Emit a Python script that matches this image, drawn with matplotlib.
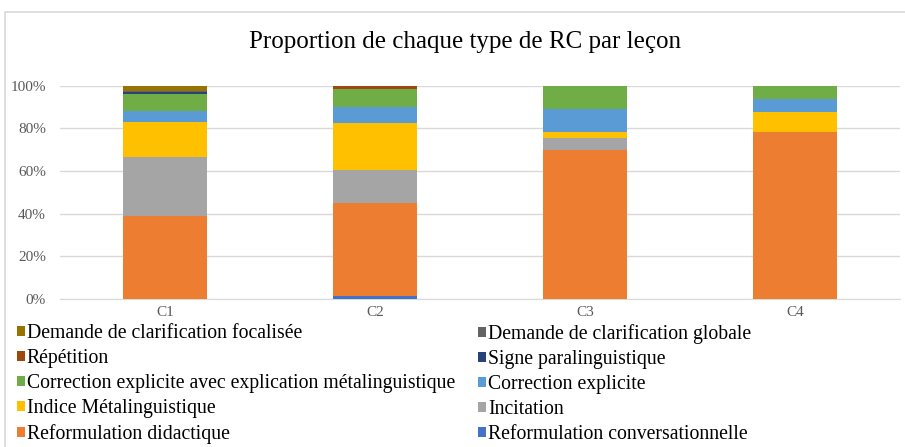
import numpy as np
import matplotlib
matplotlib.use('Agg')
import matplotlib.pyplot as plt
from matplotlib.patches import Rectangle
from matplotlib.ticker import PercentFormatter

# Lessons
lessons = ['C1', 'C2', 'C3', 'C4']

# Share of each corrective-feedback type (%), bottom to top of the stack
conversationnelle = [0.0, 1.2, 0.0, 0.0]
didactique = [38.9, 43.7, 70.0, 78.2]
incitation = [27.8, 15.6, 5.6, 0.0]
indice = [16.1, 21.9, 2.6, 9.5]
correction = [5.5, 7.8, 10.9, 5.9]
correction_expl = [7.7, 8.3, 10.9, 6.4]
signe = [0.9, 0.0, 0.0, 0.0]
repetition = [0.0, 1.5, 0.0, 0.0]
globale = [0.5, 0.0, 0.0, 0.0]
focalisee = [2.6, 0.0, 0.0, 0.0]

series = [
    ('Reformulation conversationnelle', conversationnelle, '#4472C4'),
    ('Reformulation didactique', didactique, '#ED7D31'),
    ('Incitation', incitation, '#A5A5A5'),
    ('Indice Métalinguistique', indice, '#FFC000'),
    ('Correction explicite', correction, '#5B9BD5'),
    ('Correction explicite avec explication métalinguistique', correction_expl, '#70AD47'),
    ('Signe paralinguistique', signe, '#264478'),
    ('Répétition', repetition, '#9E480E'),
    ('Demande de clarification globale', globale, '#636363'),
    ('Demande de clarification focalisée', focalisee, '#997300'),
]

plt.rcParams['font.family'] = ['Liberation Serif', 'DejaVu Serif']

fig = plt.figure(figsize=(9.05, 4.47), dpi=100)
W, H = 905, 447
ax = fig.add_axes([60 / W, 1 - 299 / H, 840 / W, (299 - 85.7) / H])

x = np.arange(len(lessons))
bottom = np.zeros(len(lessons))
handles = {}
for name, vals, col in series:
    vals = np.array(vals)
    b = ax.bar(x, vals, 0.4, bottom=bottom, color=col, label=name, zorder=3)
    handles[name] = b
    bottom += vals

ax.set_xlim(-0.5, len(lessons) - 0.5)
ax.set_ylim(0, 100)
ax.set_yticks(np.arange(0, 101, 20))
ax.yaxis.set_major_formatter(PercentFormatter(decimals=0))
ax.set_xticks(x)
ax.set_xticklabels(lessons)
ax.tick_params(length=0, labelsize=11, colors='#595959')
ax.tick_params(axis='y', pad=10)
ax.tick_params(axis='x', pad=5)
ax.grid(axis='y', color='#D9D9D9', linewidth=1, zorder=0)
for s in ['top', 'right', 'left']:
    ax.spines[s].set_visible(False)
ax.spines['bottom'].set_color('#D9D9D9')

fig.text(465 / W, 1 - 42 / H, 'Proportion de chaque type de RC par leçon',
         ha='center', va='center', fontsize=18)

# Outer chart frame
fig.patches.append(Rectangle((5 / W, -0.1), 1.2, 1 - 12 / H + 0.1,
                             transform=fig.transFigure, fill=False,
                             edgecolor='#D9D9D9', linewidth=1.2))

col1 = ['Demande de clarification focalisée', 'Répétition',
        'Correction explicite avec explication métalinguistique',
        'Indice Métalinguistique', 'Reformulation didactique']
col2 = ['Demande de clarification globale', 'Signe paralinguistique',
        'Correction explicite', 'Incitation', 'Reformulation conversationnelle']

for names, xpos in [(col1, 17), (col2, 478)]:
    fig.legend([handles[n] for n in names], names, loc='upper left',
               bbox_to_anchor=(xpos / W, 1 - 324 / H), frameon=False,
               fontsize=14.2, handlelength=0.4, handleheight=0.4,
               handletextpad=0.1, labelspacing=0.3, borderaxespad=0,
               borderpad=0)

fig.savefig('out.png', dpi=100)
